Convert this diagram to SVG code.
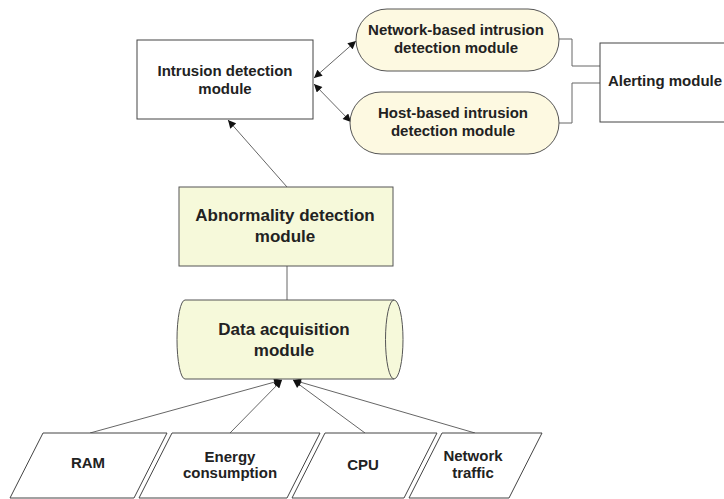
<svg xmlns="http://www.w3.org/2000/svg" width="724" height="499" viewBox="0 0 724 499">
<defs>
<marker id="ah" viewBox="0 0 10 10" refX="10" refY="5" markerWidth="9" markerHeight="8" markerUnits="userSpaceOnUse" orient="auto-start-reverse">
<path d="M0,0 L10,5 L0,10 z" fill="#111"/>
</marker>
<style>
text{font-family:"Liberation Sans",Arial,sans-serif;font-weight:bold;fill:#222;text-anchor:middle;font-size:15px}
.big{font-size:17px}
.box{fill:#fff;stroke:#444;stroke-width:1}
.yel{fill:#f6f9da;stroke:#555;stroke-width:1}
.pill{fill:#fdf9e1;stroke:#555;stroke-width:1}
.par{fill:#fff;stroke:#444;stroke-width:1}
.con{fill:none;stroke:#666;stroke-width:1}
</style>
</defs>
<rect width="724" height="499" fill="#fff"/>
<g id="connectors">
<line class="con" x1="314" y1="78" x2="356" y2="41" marker-start="url(#ah)" marker-end="url(#ah)"/>
<line class="con" x1="314" y1="84" x2="351" y2="122" marker-start="url(#ah)" marker-end="url(#ah)"/>
<polyline class="con" points="559,39 572,39 572,66 600,66"/>
<polyline class="con" points="559,123 572,123 572,83 600,83"/>
<line class="con" x1="287" y1="187" x2="228" y2="120" marker-end="url(#ah)"/>
<line class="con" x1="287" y1="266" x2="287" y2="300"/>
<line class="con" x1="90" y1="433" x2="282" y2="380" marker-end="url(#ah)"/>
<line class="con" x1="230" y1="433" x2="282" y2="380" marker-end="url(#ah)"/>
<line class="con" x1="365" y1="433" x2="293" y2="380" marker-end="url(#ah)"/>
<line class="con" x1="475" y1="433" x2="293" y2="380" marker-end="url(#ah)"/>
</g>
<g id="intrusion">
<rect class="box" x="137" y="40" width="176" height="79"/>
<text x="225" y="76">Intrusion detection</text>
<text x="225" y="94">module</text>
</g>
<g id="network-ids">
<rect class="pill" x="356" y="9" width="203" height="62" rx="31" ry="31"/>
<text x="456" y="35">Network-based intrusion</text>
<text x="456" y="53">detection module</text>
</g>
<g id="host-ids">
<rect class="pill" x="350" y="92" width="209" height="62" rx="31" ry="31"/>
<text x="453" y="118">Host-based intrusion</text>
<text x="453" y="136">detection module</text>
</g>
<g id="alerting">
<rect class="box" x="600" y="43" width="140" height="79"/>
<text x="665" y="86">Alerting module</text>
</g>
<g id="abnormality">
<rect class="yel" x="179" y="187" width="214" height="79"/>
<text class="big" x="285" y="221">Abnormality detection</text>
<text class="big" x="285" y="242">module</text>
</g>
<g id="data-acquisition">
<path class="yel" d="M185,300 L394,300 A9,39.5 0 0 1 394,379 L185,379 A8,39.5 0 0 1 185,300 Z"/>
<path class="con" style="stroke:#555" d="M394,300 A8.5,39.5 0 0 0 394,379"/>
<text class="big" x="284" y="335">Data acquisition</text>
<text class="big" x="284" y="356">module</text>
</g>
<g id="ram">
<polygon class="par" points="43,433 167,433 134,498 10,498"/>
<text x="88" y="468">RAM</text>
</g>
<g id="energy">
<polygon class="par" points="172,433 320,433 287,498 139,498"/>
<text x="230" y="462">Energy</text>
<text x="230" y="478">consumption</text>
</g>
<g id="cpu">
<polygon class="par" points="325,433 437,433 404,498 292,498"/>
<text x="363" y="470">CPU</text>
</g>
<g id="network-traffic">
<polygon class="par" points="442,433 542,433 509,498 409,498"/>
<text x="473" y="461">Network</text>
<text x="473" y="478">traffic</text>
</g>
</svg>
